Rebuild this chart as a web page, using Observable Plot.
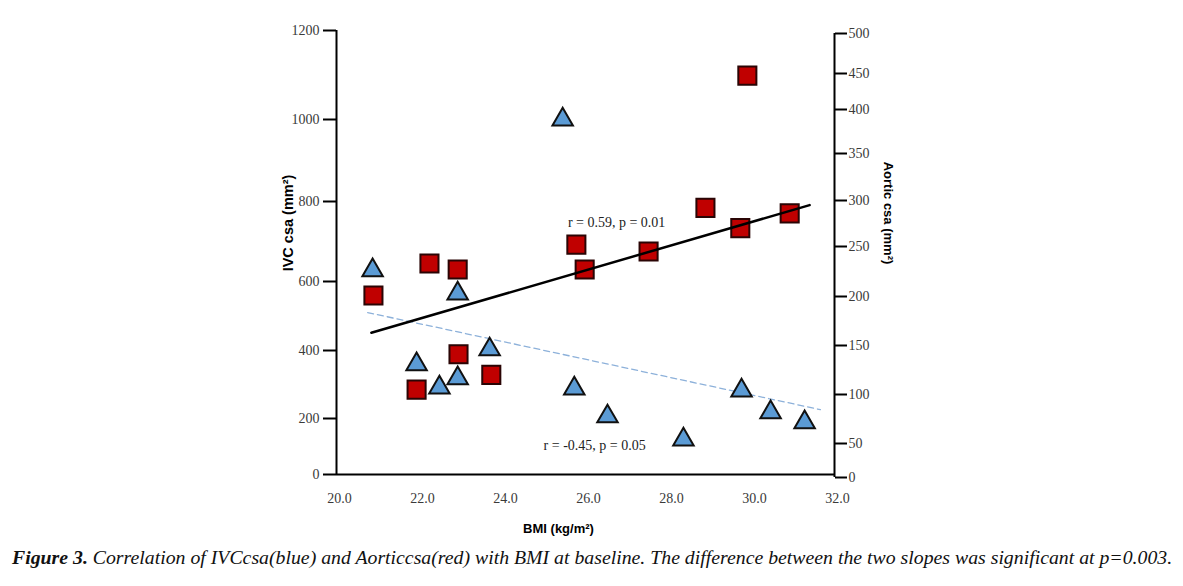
<!DOCTYPE html>
<html>
<head>
<meta charset="utf-8">
<script src="https://cdn.jsdelivr.net/npm/d3@7"></script>
<script src="https://cdn.jsdelivr.net/npm/@observablehq/plot@0.6"></script>
<style>
  html, body { margin: 0; padding: 0; background: #fff; }
  #wrap { position: relative; width: 1183px; height: 586px; background: #fff; }
  #wrap svg { position: absolute; left: 0; top: 0; }
  #cap { position: absolute; left: 12px; top: 546px; font-family: "Liberation Serif", serif; font-style: italic; font-size: 19.8px; color: #111; white-space: nowrap; }
</style>
</head>
<body>
<div id="wrap"><div id="cap"><b>Figure 3.</b> Correlation of IVCcsa(blue) and Aorticcsa(red) with BMI at baseline. The difference between the two slopes was significant at p=0.003.</div></div>
<script>
// ---- data ----
const bmiIVC   = [20.87, 21.93, 22.48, 22.92, 22.92, 23.69, 25.45, 25.73, 26.53, 28.36, 29.76, 30.46, 31.28];
const ivcCsa   = [628, 359, 291, 565, 318, 403, 1000, 288, 206, 125, 282, 218, 186];
const bmiAortic = [20.89, 21.93, 22.24, 22.92, 22.94, 23.73, 25.78, 25.98, 27.52, 28.89, 29.73, 29.90, 30.92];
const aorticCsa = [201, 105, 233, 227, 141, 120, 252, 227, 245, 292, 270, 447, 286];
const ivcFitBMI = [20.75, 31.66];
const ivcFitVal = [510, 226];
const aorticFitBMI = [20.84, 31.40];
const aorticFitVal = [163, 295];
const xTicks = [20, 22, 24, 26, 28, 30, 32];
const yLeftTicks = [0, 200, 400, 600, 800, 1000, 1200];
const yRightTicks = [0, 50, 100, 150, 200, 250, 300, 350, 400, 450, 500];
const ivcNote = {x: 26.22, y: 104, text: "r = -0.45, p = 0.05"};
const aorticNote = {x: 26.75, y: 276, text: "r = 0.59, p = 0.01"};
const xLabel = "BMI (kg/m²)";
const yLeftLabel = "IVC csa (mm²)";
const yRightLabel = "Aortic csa (mm²)";

const ivcData = bmiIVC.map((b, i) => ({bmi: b, v: ivcCsa[i]}));
const aorticData = bmiAortic.map((b, i) => ({bmi: b, v: aorticCsa[i]}));
const ivcFit = ivcFitBMI.map((b, i) => ({bmi: b, v: ivcFitVal[i]}));
const aorticFit = aorticFitBMI.map((b, i) => ({bmi: b, v: aorticFitVal[i]}));

// the reference axes are drawn with uneven tick spacing: calibrate each y axis piecewise
const leftCal = d3.scaleLinear(yLeftTicks, [474, 418, 350, 281, 201, 119, 30]);
const rightCal = d3.scaleLinear(yRightTicks, [477, 443, 394, 345, 296, 246, 200, 153, 109, 73, 33]);

const W = 1183, H = 540;
const common = {
  width: W, height: H,
  marginLeft: 336, marginRight: 349, marginTop: 30, marginBottom: 65,
  x: {domain: [20, 32], axis: null},
  style: {fontFamily: "'Liberation Serif', serif", fontSize: "14px", color: "#3a3a3a", background: "transparent", overflow: "visible"}
};
const sansBold = {fontFamily: "'Liberation Sans', Arial, sans-serif", fontWeight: "bold", fill: "#000", textAnchor: "middle"};

const left = Plot.plot({
  ...common,
  style: {...common.style, background: "#fff"},
  y: {type: "linear", transform: v => leftCal(v), domain: [0, 540], range: [0, 540], axis: null},
  marks: [
    Plot.ruleX([20], {y1: 0, y2: 1200, stroke: "#000", strokeWidth: 2}),
    Plot.ruleY([0], {x1: 20, x2: 32, stroke: "#000", strokeWidth: 2}),
    Plot.axisY(yLeftTicks, {anchor: "left", tickSize: 13, tickPadding: 4, strokeWidth: 2, stroke: "#000", label: null, tickFormat: d => String(d)}),
    Plot.axisX(xTicks, {anchor: "bottom", tickSize: 0, tickPadding: 18, dx: 3, label: null, tickFormat: d3.format(".1f")}),
    Plot.line(ivcFit, {x: "bmi", y: "v", stroke: "#8db1da", strokeWidth: 1.3, strokeDasharray: "6,4"}),
    Plot.dot(ivcData, {x: "bmi", y: "v", symbol: "triangle", r: 7.6, fill: "#5b9bd5", stroke: "#111", strokeWidth: 2}),
    Plot.text([ivcNote], {x: "x", y: "y", text: "text", fontSize: 14, fill: "#222"}),
    Plot.text([yLeftLabel], {frameAnchor: "left", text: d => d, rotate: -90, dx: -48, dy: -30, fontSize: 14.5, ...sansBold}),
    Plot.text([xLabel], {frameAnchor: "bottom", text: d => d, dx: -27, dy: 57, fontSize: 13, ...sansBold})
  ]
});

const right = Plot.plot({
  ...common,
  y: {type: "linear", transform: v => rightCal(v), domain: [0, 540], range: [0, 540], axis: null},
  marks: [
    Plot.ruleX([32], {y1: 0, y2: 500, stroke: "#000", strokeWidth: 2}),
    Plot.axisY(yRightTicks, {anchor: "right", tickSize: 12, tickPadding: 2, strokeWidth: 2, stroke: "#000", label: null, tickFormat: d => String(d)}),
    Plot.dot(aorticData, {x: "bmi", y: "v", symbol: "square", r: 10.2, fill: "#c00000", stroke: "#2a0505", strokeWidth: 2}),
    Plot.line(aorticFit, {x: "bmi", y: "v", stroke: "#000", strokeWidth: 2.5}),
    Plot.text([aorticNote], {x: "x", y: "y", text: "text", fontSize: 14, fill: "#222"}),
    Plot.text([yRightLabel], {frameAnchor: "right", text: d => d, rotate: 90, dx: 54, dy: -40, fontSize: 13, ...sansBold})
  ]
});

const wrap = document.getElementById("wrap");
wrap.insertBefore(right, wrap.firstChild);
wrap.insertBefore(left, wrap.firstChild);
</script>
</body>
</html>
